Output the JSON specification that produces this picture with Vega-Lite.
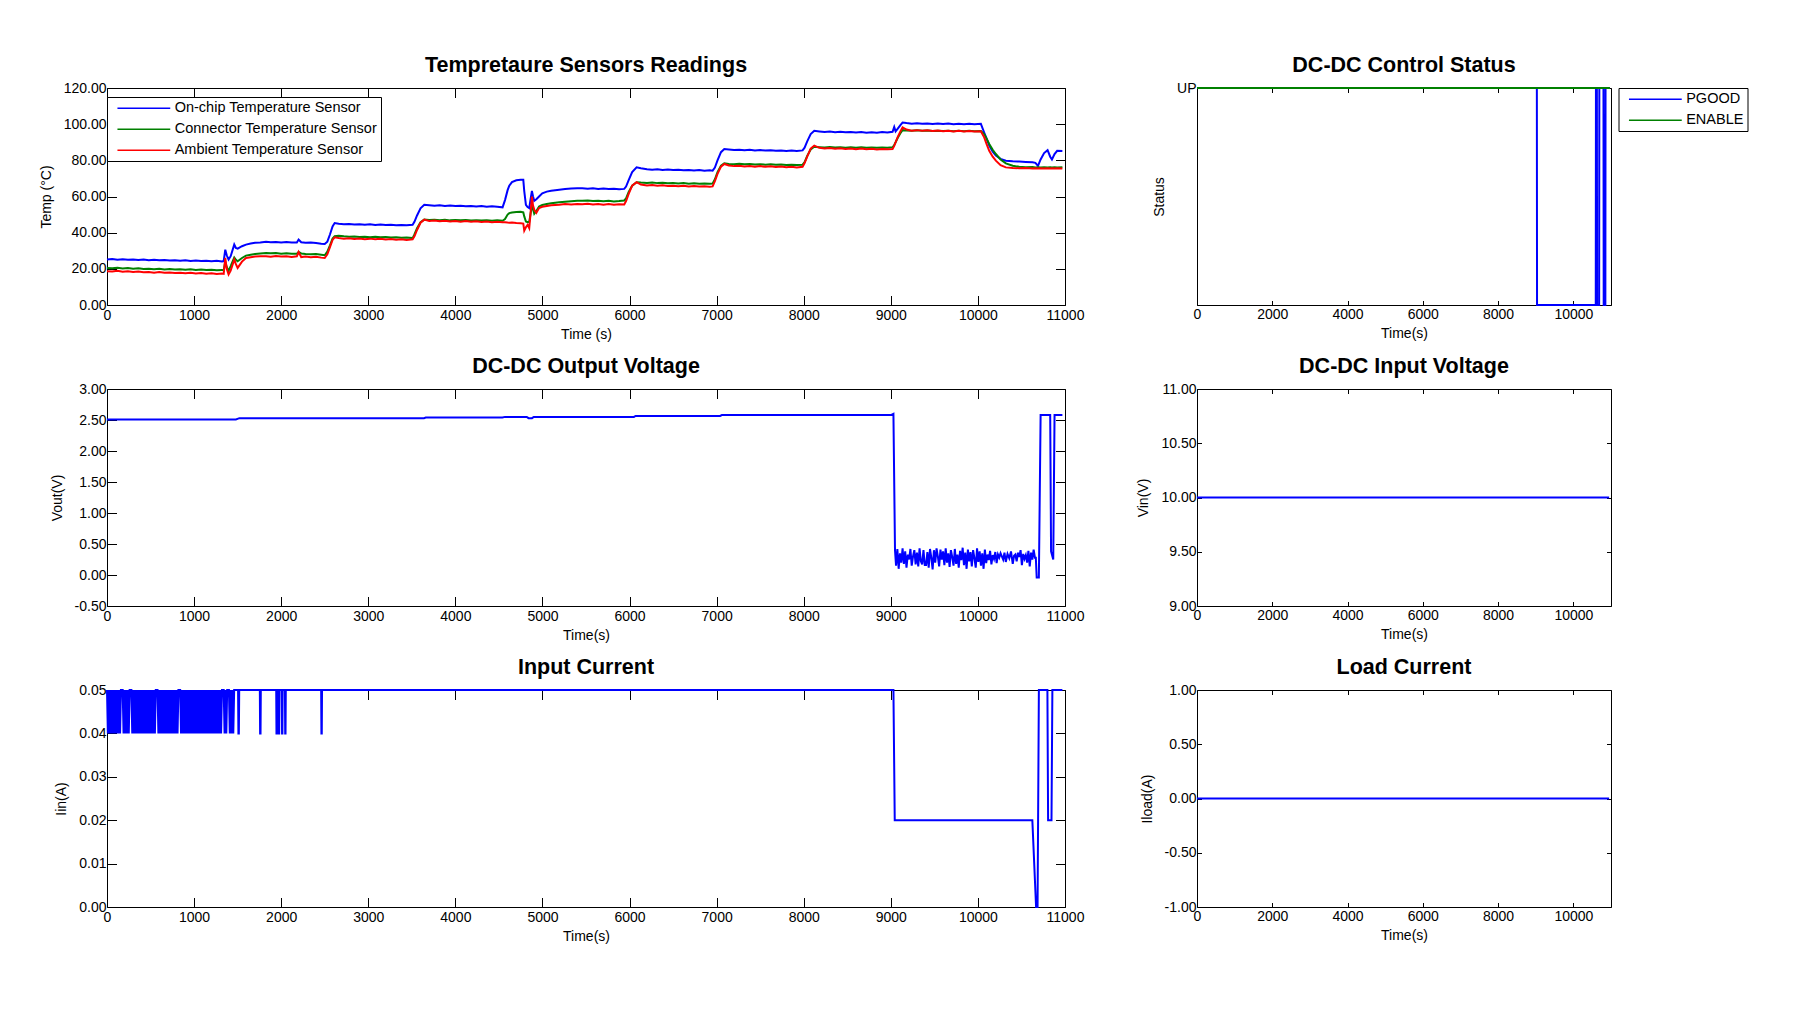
{
 "$schema":"https://vega.github.io/schema/vega-lite/v6.json",
 "background":"white",
 "padding":{"left":38,"top":54,"right":10,"bottom":10},
 "bounds":"flush",
 "columns":2,
 "spacing":{"row":84,"column":132},
 "resolve":{"scale":{"color":"independent"},"legend":{"color":"independent"}},
 "config":{
  "font":"Liberation Sans",
  "view":{"stroke":"#000000","strokeWidth":1},
  "axis":{"domain":false,"grid":false,"tickColor":"#000","tickWidth":1,"labelColor":"#000","labelFontSize":14,"titleColor":"#000","titleFontSize":14,"titleFontWeight":"normal","labelFlush":false,"labelOverlap":false},
  "title":{"fontSize":21.5,"fontWeight":"bold","color":"#000","baseline":"alphabetic","offset":5},
  "legend":{"labelFontSize":14.5,"labelColor":"#000","labelLimit":400,"strokeColor":"#000","fillColor":"#fff","padding":4,"symbolSize":100,"symbolStrokeWidth":1.5,"symbolOffset":25.6,"labelOffset":23.6,"rowPadding":6}
 },
 "datasets":{
  "temp":[
   {"t":0,"a":25.1,"b":20.5,"c":18.7},{"t":60,"a":25.4,"b":20.3,"c":18.5},{"t":120,"a":25.0,"b":20.6,"c":18.9},{"t":180,"a":25.3,"b":20.2,"c":18.4},{"t":240,"a":25.0,"b":20.4,"c":18.6},{"t":300,"a":25.2,"b":20.1,"c":18.2},{"t":360,"a":24.9,"b":20.3,"c":18.5},{"t":420,"a":25.1,"b":19.9,"c":18.1},{"t":480,"a":24.8,"b":20.1,"c":18.3},{"t":540,"a":25.0,"b":19.8,"c":17.9},{"t":600,"a":24.7,"b":20.0,"c":18.2},{"t":660,"a":24.9,"b":19.7,"c":17.8},{"t":720,"a":24.6,"b":19.9,"c":18.0},{"t":780,"a":24.8,"b":19.6,"c":17.7},{"t":840,"a":24.5,"b":19.8,"c":17.9},{"t":900,"a":24.7,"b":19.5,"c":17.6},{"t":960,"a":24.4,"b":19.7,"c":17.8},{"t":1020,"a":24.6,"b":19.4,"c":17.4},{"t":1080,"a":24.3,"b":19.6,"c":17.7},{"t":1140,"a":24.5,"b":19.3,"c":17.3},{"t":1200,"a":24.2,"b":19.5,"c":17.5},{"t":1260,"a":24.4,"b":19.2,"c":17.2},{"t":1320,"a":24.1,"b":19.4,"c":17.4},{"t":1340,"a":24.3,"b":19.1,"c":17.2},
   {"t":1358,"a":30.6,"b":24.0,"c":26.0},{"t":1375,"a":27.5,"b":21.0,"c":20.0},{"t":1396,"a":25.1,"b":18.9,"c":16.9},{"t":1420,"a":27.0,"b":21.5,"c":19.0},{"t":1461,"a":33.4,"b":26.3,"c":25.1},{"t":1480,"a":31.5,"b":25.0,"c":22.6},{"t":1500,"a":31.2,"b":24.2,"c":20.5},{"t":1550,"a":32.5,"b":26.0,"c":24.0},{"t":1596,"a":33.4,"b":27.3,"c":26.0},{"t":1650,"a":34.0,"b":27.8,"c":26.4},{"t":1700,"a":34.4,"b":28.2,"c":26.8},{"t":1760,"a":34.6,"b":28.5,"c":27.0},{"t":1826,"a":35.0,"b":28.8,"c":27.0},{"t":1880,"a":34.7,"b":28.6,"c":26.7},{"t":1940,"a":34.9,"b":28.7,"c":27.1},{"t":2000,"a":34.6,"b":28.4,"c":26.8},{"t":2060,"a":34.8,"b":28.6,"c":27.0},{"t":2120,"a":34.5,"b":28.3,"c":26.6},{"t":2180,"a":34.6,"b":28.4,"c":26.9},{"t":2200,"a":36.2,"b":29.3,"c":29.3},{"t":2230,"a":34.7,"b":28.5,"c":26.5},{"t":2280,"a":34.4,"b":28.2,"c":26.8},{"t":2340,"a":34.6,"b":28.0,"c":26.4},{"t":2400,"a":34.3,"b":28.2,"c":26.7},{"t":2460,"a":33.9,"b":27.8,"c":26.2},{"t":2500,"a":33.7,"b":27.5,"c":26.0},
   {"t":2530,"a":35.0,"b":29.5,"c":28.0},{"t":2560,"a":39.0,"b":33.0,"c":32.0},{"t":2590,"a":43.5,"b":36.8,"c":36.0},{"t":2614,"a":45.3,"b":38.0,"c":37.4},{"t":2660,"a":44.9,"b":38.3,"c":37.0},{"t":2720,"a":44.6,"b":38.0,"c":36.6},{"t":2780,"a":44.8,"b":37.8,"c":36.9},{"t":2840,"a":44.5,"b":37.9,"c":36.5},{"t":2900,"a":44.7,"b":37.6,"c":36.8},{"t":2960,"a":44.4,"b":37.8,"c":36.4},{"t":3020,"a":44.6,"b":37.5,"c":36.7},{"t":3080,"a":44.3,"b":37.7,"c":36.3},{"t":3140,"a":44.5,"b":37.4,"c":36.6},{"t":3200,"a":44.2,"b":37.6,"c":36.2},{"t":3260,"a":44.4,"b":37.3,"c":36.5},{"t":3320,"a":44.1,"b":37.5,"c":36.1},{"t":3380,"a":44.3,"b":37.2,"c":36.4},{"t":3440,"a":44.1,"b":37.3,"c":36.0},{"t":3509,"a":44.4,"b":37.0,"c":36.3},
   {"t":3530,"a":46.0,"b":39.0,"c":38.0},{"t":3560,"a":49.5,"b":42.5,"c":41.5},{"t":3600,"a":53.5,"b":45.8,"c":45.5},{"t":3643,"a":55.4,"b":47.2,"c":47.2},{"t":3700,"a":55.2,"b":47.0,"c":46.5},{"t":3760,"a":54.9,"b":47.2,"c":46.7},{"t":3820,"a":55.1,"b":46.9,"c":46.3},{"t":3880,"a":54.8,"b":47.1,"c":46.6},{"t":3940,"a":55.0,"b":46.8,"c":46.2},{"t":4000,"a":54.7,"b":47.0,"c":46.5},{"t":4060,"a":54.9,"b":46.8,"c":46.1},{"t":4120,"a":54.6,"b":47.0,"c":46.4},{"t":4180,"a":54.8,"b":46.7,"c":46.0},{"t":4240,"a":54.5,"b":46.9,"c":46.3},{"t":4300,"a":54.7,"b":46.7,"c":45.9},{"t":4360,"a":54.4,"b":46.9,"c":46.2},{"t":4420,"a":54.6,"b":46.6,"c":45.8},{"t":4480,"a":54.3,"b":46.8,"c":46.0},{"t":4542,"a":54.0,"b":46.6,"c":45.7},
   {"t":4570,"a":58.0,"b":47.5,"c":45.8},{"t":4600,"a":63.5,"b":50.0,"c":45.6},{"t":4619,"a":66.0,"b":50.8,"c":45.5},{"t":4650,"a":68.0,"b":51.2,"c":45.6},{"t":4700,"a":69.0,"b":51.4,"c":45.3},{"t":4750,"a":69.2,"b":51.5,"c":45.2},{"t":4780,"a":69.2,"b":51.2,"c":45.0},{"t":4791,"a":63.0,"b":49.0,"c":41.1},{"t":4810,"a":55.4,"b":46.2,"c":43.0},{"t":4829,"a":54.2,"b":45.8,"c":44.3},{"t":4848,"a":53.6,"b":46.0,"c":42.5},{"t":4862,"a":58.0,"b":50.0,"c":50.0},{"t":4879,"a":63.1,"b":55.0,"c":60.0},{"t":4892,"a":60.0,"b":53.0,"c":55.0},{"t":4906,"a":57.6,"b":50.5,"c":52.7},{"t":4930,"a":58.5,"b":52.0,"c":51.0},{"t":4961,"a":60.0,"b":54.5,"c":53.6},{"t":4998,"a":61.8,"b":55.3,"c":54.3},{"t":5050,"a":62.7,"b":55.8,"c":54.8},{"t":5100,"a":63.2,"b":56.3,"c":55.2},{"t":5193,"a":63.7,"b":56.8,"c":55.4},{"t":5260,"a":64.1,"b":57.1,"c":55.8},{"t":5330,"a":64.4,"b":57.4,"c":55.6},{"t":5400,"a":64.6,"b":57.6,"c":55.9},{"t":5457,"a":64.6,"b":57.6,"c":55.7},{"t":5520,"a":64.3,"b":57.8,"c":56.0},{"t":5580,"a":64.5,"b":57.5,"c":55.6},{"t":5640,"a":64.2,"b":57.7,"c":55.9},{"t":5700,"a":64.4,"b":57.4,"c":55.5},{"t":5760,"a":64.1,"b":57.6,"c":55.8},{"t":5820,"a":64.3,"b":57.3,"c":55.4},{"t":5880,"a":64.0,"b":57.5,"c":55.7},{"t":5939,"a":64.2,"b":57.8,"c":55.6},
   {"t":5960,"a":65.5,"b":59.0,"c":57.5},{"t":5990,"a":69.0,"b":62.5,"c":61.5},{"t":6030,"a":73.5,"b":66.0,"c":66.0},{"t":6081,"a":76.1,"b":67.9,"c":67.9},{"t":6130,"a":75.6,"b":67.7,"c":66.6},{"t":6200,"a":75.1,"b":67.5,"c":66.1},{"t":6260,"a":74.8,"b":67.8,"c":66.4},{"t":6320,"a":75.0,"b":67.4,"c":65.9},{"t":6380,"a":74.7,"b":67.6,"c":66.2},{"t":6440,"a":74.9,"b":67.3,"c":65.8},{"t":6500,"a":74.6,"b":67.5,"c":66.0},{"t":6560,"a":74.8,"b":67.2,"c":65.7},{"t":6620,"a":74.5,"b":67.4,"c":65.9},{"t":6680,"a":74.7,"b":67.1,"c":65.6},{"t":6740,"a":74.4,"b":67.3,"c":65.8},{"t":6800,"a":74.6,"b":67.0,"c":65.5},{"t":6860,"a":74.3,"b":67.2,"c":65.7},{"t":6920,"a":74.5,"b":67.0,"c":65.4},{"t":6954,"a":74.3,"b":67.2,"c":65.6},
   {"t":6980,"a":76.0,"b":69.5,"c":68.5},{"t":7010,"a":80.0,"b":73.5,"c":72.5},{"t":7050,"a":84.5,"b":77.0,"c":76.5},{"t":7088,"a":86.2,"b":78.3,"c":78.0},{"t":7140,"a":86.0,"b":78.0,"c":77.2},{"t":7200,"a":85.7,"b":77.8,"c":76.8},{"t":7260,"a":85.9,"b":78.1,"c":77.0},{"t":7320,"a":85.6,"b":77.8,"c":76.6},{"t":7380,"a":85.8,"b":78.0,"c":76.9},{"t":7440,"a":85.5,"b":77.7,"c":76.5},{"t":7500,"a":85.7,"b":77.9,"c":76.8},{"t":7560,"a":85.4,"b":77.6,"c":76.4},{"t":7620,"a":85.6,"b":77.8,"c":76.7},{"t":7680,"a":85.3,"b":77.5,"c":76.3},{"t":7740,"a":85.5,"b":77.7,"c":76.6},{"t":7800,"a":85.2,"b":77.4,"c":76.2},{"t":7860,"a":85.4,"b":77.6,"c":76.5},{"t":7920,"a":85.2,"b":77.4,"c":76.1},{"t":7987,"a":85.5,"b":77.6,"c":76.4},
   {"t":8010,"a":87.0,"b":79.0,"c":78.5},{"t":8040,"a":90.5,"b":82.5,"c":82.0},{"t":8080,"a":94.5,"b":86.0,"c":86.5},{"t":8121,"a":96.3,"b":87.5,"c":88.1},{"t":8180,"a":96.0,"b":87.3,"c":86.9},{"t":8240,"a":95.7,"b":87.1,"c":86.5},{"t":8300,"a":95.9,"b":87.4,"c":86.8},{"t":8360,"a":95.6,"b":87.1,"c":86.4},{"t":8420,"a":95.8,"b":87.3,"c":86.7},{"t":8480,"a":95.5,"b":87.0,"c":86.3},{"t":8540,"a":95.7,"b":87.2,"c":86.6},{"t":8600,"a":95.4,"b":87.0,"c":86.2},{"t":8660,"a":95.6,"b":87.2,"c":86.5},{"t":8720,"a":95.3,"b":86.9,"c":86.1},{"t":8780,"a":95.5,"b":87.1,"c":86.4},{"t":8840,"a":95.3,"b":86.9,"c":86.0},{"t":8900,"a":95.6,"b":87.1,"c":86.3},{"t":8960,"a":95.4,"b":86.9,"c":86.1},{"t":9020,"a":95.8,"b":87.2,"c":86.2},
   {"t":9039,"a":98.5,"b":88.5,"c":88.0},{"t":9055,"a":96.0,"b":90.0,"c":90.0},{"t":9080,"a":97.5,"b":92.5,"c":93.0},{"t":9110,"a":99.5,"b":95.0,"c":96.0},{"t":9135,"a":100.9,"b":96.7,"c":98.2},{"t":9180,"a":100.6,"b":96.5,"c":97.0},{"t":9240,"a":100.3,"b":96.3,"c":96.4},{"t":9300,"a":100.5,"b":96.6,"c":96.7},{"t":9360,"a":100.2,"b":96.3,"c":96.3},{"t":9420,"a":100.4,"b":96.5,"c":96.6},{"t":9480,"a":100.1,"b":96.2,"c":96.2},{"t":9540,"a":100.3,"b":96.4,"c":96.5},{"t":9600,"a":100.1,"b":96.2,"c":96.1},{"t":9660,"a":100.3,"b":96.4,"c":96.4},{"t":9720,"a":100.0,"b":96.1,"c":96.0},{"t":9780,"a":100.2,"b":96.3,"c":96.3},{"t":9840,"a":100.0,"b":96.1,"c":95.9},{"t":9900,"a":100.2,"b":96.3,"c":96.2},{"t":9960,"a":100.0,"b":96.1,"c":95.9},{"t":10034,"a":100.2,"b":96.2,"c":96.1},
   {"t":10072,"a":95.4,"b":94.5,"c":92.7},{"t":10100,"a":92.0,"b":92.0,"c":89.0},{"t":10130,"a":88.1,"b":89.0,"c":85.3},{"t":10170,"a":84.8,"b":85.8,"c":82.0},{"t":10206,"a":82.6,"b":83.5,"c":79.8},{"t":10260,"a":80.8,"b":80.5,"c":77.3},{"t":10321,"a":79.8,"b":78.3,"c":76.1},{"t":10400,"a":79.5,"b":77.0,"c":75.8},{"t":10474,"a":79.3,"b":76.4,"c":75.6},{"t":10550,"a":79.1,"b":76.2,"c":75.7},{"t":10627,"a":78.9,"b":76.3,"c":75.5},{"t":10660,"a":78.6,"b":76.1,"c":75.6},{"t":10690,"a":76.9,"b":76.2,"c":75.5},{"t":10720,"a":80.5,"b":76.1,"c":75.6},{"t":10760,"a":84.0,"b":76.2,"c":75.5},{"t":10800,"a":85.6,"b":76.1,"c":75.6},{"t":10830,"a":82.0,"b":76.2,"c":75.5},{"t":10850,"a":80.5,"b":76.1,"c":75.6},{"t":10880,"a":83.5,"b":76.2,"c":75.5},{"t":10910,"a":85.3,"b":76.1,"c":75.6},{"t":10970,"a":85.2,"b":76.2,"c":75.5}
  ],
  "stat":[
   {"t":0,"s":"PGOOD","v":1},{"t":9030,"s":"PGOOD","v":1},{"t":9035,"s":"PGOOD","v":0},{"t":10595,"s":"PGOOD","v":0},{"t":10600,"s":"PGOOD","v":1},{"t":10625,"s":"PGOOD","v":1},{"t":10630,"s":"PGOOD","v":0},{"t":10685,"s":"PGOOD","v":0},{"t":10690,"s":"PGOOD","v":1},{"t":10800,"s":"PGOOD","v":1},{"t":10806,"s":"PGOOD","v":0},{"t":10850,"s":"PGOOD","v":0},{"t":10855,"s":"PGOOD","v":1},{"t":10970,"s":"PGOOD","v":1},
   {"t":0,"s":"ENABLE","v":1},{"t":10970,"s":"ENABLE","v":1}
  ],
  "vout":[
   {"t":0,"v":2.51},{"t":1480,"v":2.51},{"t":1520,"v":2.53},{"t":3640,"v":2.53},{"t":3660,"v":2.54},{"t":4540,"v":2.54},{"t":4570,"v":2.55},{"t":4820,"v":2.55},{"t":4840,"v":2.53},{"t":4880,"v":2.53},{"t":4900,"v":2.55},{"t":6050,"v":2.55},{"t":6070,"v":2.565},{"t":7040,"v":2.565},{"t":7060,"v":2.58},{"t":9000,"v":2.58},{"t":9030,"v":2.6},
   {"t":9048,"v":0.40},{"t":9060,"v":0.15},{"t":9075,"v":0.42},{"t":9090,"v":0.10},{"t":9105,"v":0.35},{"t":9120,"v":0.20},{"t":9135,"v":0.43},{"t":9150,"v":0.18},{"t":9165,"v":0.38},{"t":9180,"v":0.12},{"t":9195,"v":0.33},{"t":9210,"v":0.25},{"t":9225,"v":0.42},{"t":9240,"v":0.15},{"t":9255,"v":0.30},{"t":9270,"v":0.40},{"t":9285,"v":0.17},{"t":9300,"v":0.36},{"t":9315,"v":0.14},{"t":9330,"v":0.43},{"t":9345,"v":0.22},{"t":9360,"v":0.17},{"t":9375,"v":0.40},{"t":9390,"v":0.16},{"t":9405,"v":0.16},{"t":9420,"v":0.37},{"t":9435,"v":0.12},{"t":9450,"v":0.42},{"t":9465,"v":0.28},{"t":9480,"v":0.09},{"t":9495,"v":0.40},{"t":9510,"v":0.20},{"t":9525,"v":0.43},{"t":9540,"v":0.30},{"t":9555,"v":0.14},{"t":9570,"v":0.41},{"t":9585,"v":0.25},{"t":9600,"v":0.38},{"t":9615,"v":0.16},{"t":9630,"v":0.43},{"t":9645,"v":0.20},{"t":9660,"v":0.35},{"t":9675,"v":0.13},{"t":9690,"v":0.40},{"t":9705,"v":0.29},{"t":9720,"v":0.15},{"t":9735,"v":0.42},{"t":9750,"v":0.18},{"t":9765,"v":0.33},{"t":9780,"v":0.12},{"t":9795,"v":0.39},{"t":9810,"v":0.24},{"t":9825,"v":0.44},{"t":9840,"v":0.16},{"t":9855,"v":0.36},{"t":9870,"v":0.10},{"t":9885,"v":0.41},{"t":9900,"v":0.22},{"t":9915,"v":0.37},{"t":9930,"v":0.14},{"t":9945,"v":0.40},{"t":9960,"v":0.27},{"t":9975,"v":0.12},{"t":9990,"v":0.43},{"t":10005,"v":0.21},{"t":10020,"v":0.38},{"t":10035,"v":0.15},{"t":10050,"v":0.35},{"t":10065,"v":0.10},{"t":10080,"v":0.41},{"t":10095,"v":0.19},{"t":10110,"v":0.33},{"t":10125,"v":0.24},{"t":10140,"v":0.39},{"t":10155,"v":0.17},{"t":10170,"v":0.32},{"t":10185,"v":0.26},{"t":10200,"v":0.37},{"t":10215,"v":0.19},{"t":10230,"v":0.33},{"t":10245,"v":0.28},{"t":10260,"v":0.35},{"t":10275,"v":0.30},{"t":10290,"v":0.25},{"t":10305,"v":0.36},{"t":10320,"v":0.21},{"t":10340,"v":0.34},{"t":10360,"v":0.27},{"t":10380,"v":0.38},{"t":10400,"v":0.18},{"t":10415,"v":0.31},{"t":10430,"v":0.33},{"t":10445,"v":0.22},{"t":10460,"v":0.36},{"t":10475,"v":0.29},{"t":10490,"v":0.40},{"t":10505,"v":0.16},{"t":10520,"v":0.34},{"t":10535,"v":0.26},{"t":10550,"v":0.32},{"t":10565,"v":0.20},{"t":10580,"v":0.39},{"t":10595,"v":0.14},{"t":10610,"v":0.36},{"t":10625,"v":0.25},{"t":10640,"v":0.41},{"t":10655,"v":0.28},{"t":10665,"v":0.28},{"t":10675,"v":-0.04},{"t":10700,"v":-0.04},{"t":10720,"v":2.58},{"t":10830,"v":2.58},{"t":10840,"v":0.38},{"t":10865,"v":0.25},{"t":10880,"v":2.58},{"t":10970,"v":2.58}
  ],
  "iin":[
   {"t":0,"v":0.05},{"t":10,"v":0.04},{"t":20,"v":0.05},{"t":30,"v":0.04},{"t":40,"v":0.05},{"t":50,"v":0.04},{"t":60,"v":0.05},{"t":70,"v":0.04},{"t":80,"v":0.05},{"t":90,"v":0.04},{"t":100,"v":0.05},{"t":110,"v":0.04},{"t":120,"v":0.05},{"t":130,"v":0.04},{"t":140,"v":0.05},{"t":150,"v":0.04},{"t":160,"v":0.05},{"t":170,"v":0.05},{"t":180,"v":0.05},{"t":190,"v":0.04},{"t":200,"v":0.05},{"t":210,"v":0.04},{"t":220,"v":0.05},{"t":230,"v":0.04},{"t":240,"v":0.05},{"t":250,"v":0.04},{"t":260,"v":0.05},{"t":270,"v":0.05},{"t":280,"v":0.05},{"t":290,"v":0.04},{"t":300,"v":0.05},{"t":310,"v":0.04},{"t":320,"v":0.05},{"t":330,"v":0.04},{"t":340,"v":0.05},{"t":350,"v":0.04},{"t":360,"v":0.05},{"t":370,"v":0.04},{"t":380,"v":0.05},{"t":390,"v":0.04},{"t":400,"v":0.05},{"t":410,"v":0.04},{"t":420,"v":0.05},{"t":430,"v":0.04},{"t":440,"v":0.05},{"t":450,"v":0.04},{"t":460,"v":0.05},{"t":470,"v":0.04},{"t":480,"v":0.05},{"t":490,"v":0.04},{"t":500,"v":0.05},{"t":510,"v":0.04},{"t":520,"v":0.05},{"t":530,"v":0.04},{"t":540,"v":0.05},{"t":550,"v":0.04},{"t":560,"v":0.05},{"t":570,"v":0.05},{"t":580,"v":0.05},{"t":590,"v":0.04},{"t":600,"v":0.05},{"t":610,"v":0.04},{"t":620,"v":0.05},{"t":630,"v":0.04},{"t":640,"v":0.05},{"t":650,"v":0.04},{"t":660,"v":0.05},{"t":670,"v":0.04},{"t":680,"v":0.05},{"t":690,"v":0.04},{"t":700,"v":0.05},{"t":710,"v":0.04},{"t":720,"v":0.05},{"t":730,"v":0.04},{"t":740,"v":0.05},{"t":750,"v":0.04},{"t":760,"v":0.05},{"t":770,"v":0.04},{"t":780,"v":0.05},{"t":790,"v":0.04},{"t":800,"v":0.05},{"t":810,"v":0.04},{"t":820,"v":0.05},{"t":830,"v":0.05},{"t":840,"v":0.05},{"t":850,"v":0.04},{"t":860,"v":0.05},{"t":870,"v":0.04},{"t":880,"v":0.05},{"t":890,"v":0.04},{"t":900,"v":0.05},{"t":910,"v":0.04},{"t":920,"v":0.05},{"t":930,"v":0.04},{"t":940,"v":0.05},{"t":950,"v":0.04},{"t":960,"v":0.05},{"t":970,"v":0.04},{"t":980,"v":0.05},{"t":990,"v":0.04},{"t":1000,"v":0.05},{"t":1010,"v":0.04},{"t":1020,"v":0.05},{"t":1030,"v":0.04},{"t":1040,"v":0.05},{"t":1050,"v":0.04},{"t":1060,"v":0.05},{"t":1070,"v":0.04},{"t":1080,"v":0.05},{"t":1090,"v":0.04},{"t":1100,"v":0.05},{"t":1110,"v":0.04},{"t":1120,"v":0.05},{"t":1130,"v":0.04},{"t":1140,"v":0.05},{"t":1150,"v":0.04},{"t":1160,"v":0.05},{"t":1170,"v":0.04},{"t":1180,"v":0.05},{"t":1190,"v":0.04},{"t":1200,"v":0.05},{"t":1210,"v":0.04},{"t":1220,"v":0.05},{"t":1230,"v":0.04},{"t":1240,"v":0.05},{"t":1250,"v":0.04},{"t":1260,"v":0.05},{"t":1270,"v":0.04},{"t":1280,"v":0.05},{"t":1290,"v":0.04},{"t":1300,"v":0.05},{"t":1310,"v":0.04},{"t":1320,"v":0.05},{"t":1330,"v":0.05},{"t":1340,"v":0.05},{"t":1350,"v":0.04},{"t":1360,"v":0.05},{"t":1370,"v":0.04},{"t":1380,"v":0.05},{"t":1390,"v":0.05},{"t":1400,"v":0.05},{"t":1410,"v":0.04},{"t":1420,"v":0.05},{"t":1430,"v":0.04},{"t":1440,"v":0.05},{"t":1450,"v":0.04},{"t":1460,"v":0.05},
   {"t":1505,"v":0.05},{"t":1509,"v":0.04},{"t":1514,"v":0.04},{"t":1518,"v":0.05},{"t":1755,"v":0.05},{"t":1758,"v":0.04},{"t":1763,"v":0.04},{"t":1766,"v":0.05},{"t":1943,"v":0.05},{"t":1946,"v":0.04},{"t":1950,"v":0.04},{"t":1953,"v":0.05},{"t":1970,"v":0.05},{"t":1973,"v":0.04},{"t":1977,"v":0.04},{"t":1980,"v":0.05},{"t":2007,"v":0.05},{"t":2010,"v":0.04},{"t":2014,"v":0.04},{"t":2017,"v":0.05},{"t":2043,"v":0.05},{"t":2046,"v":0.04},{"t":2050,"v":0.04},{"t":2053,"v":0.05},{"t":2459,"v":0.05},{"t":2462,"v":0.04},{"t":2466,"v":0.04},{"t":2469,"v":0.05},
   {"t":9030,"v":0.05},{"t":9045,"v":0.02},{"t":10625,"v":0.02},{"t":10668,"v":0},{"t":10685,"v":0},{"t":10700,"v":0.05},{"t":10798,"v":0.05},{"t":10806,"v":0.02},{"t":10845,"v":0.02},{"t":10855,"v":0.05},{"t":10970,"v":0.05}
  ],
  "vin":[{"t":0,"v":10},{"t":10950,"v":10}],
  "iload":[{"t":0,"v":0},{"t":10950,"v":0}]
 },
 "concat":[
   {"width":958,"height":217,"title":"Tempretaure Sensors Readings","data":{"name":"temp"},
    "transform":[{"fold":["a","b","c"],"as":["s","v"]}],
    "layer":[
     {"mark":{"type":"line","strokeWidth":2},
      "encoding":{
       "x":{"field":"t","type":"quantitative","scale":{"domain":[0,11000],"nice":false},"axis":{"title":"Time (s)","values":[0,1000,2000,3000,4000,5000,6000,7000,8000,9000,10000,11000],"format":"d","tickSize":-9.5,"labelPadding":13.3,"titlePadding":5}},
       "y":{"field":"v","type":"quantitative","scale":{"domain":[0,120],"nice":false,"zero":false},"axis":{"title":"Temp (°C)","values":[0,20,40,60,80,100,120],"format":".2f","tickSize":-9.5,"labelPadding":10.5,"titlePadding":10}},
       "color":{"field":"s","type":"nominal","scale":{"domain":["a","b","c"],"range":["#0000ff","#008000","#ff0000"]},
        "legend":{"orient":"none","legendX":0,"legendY":9,"title":null,"symbolType":"M-5.28,0H5.28","labelExpr":"datum.label=='a'?'On-chip Temperature Sensor':datum.label=='b'?'Connector Temperature Sensor':'Ambient Temperature Sensor'"}}
      }},
     {"mark":{"type":"point","opacity":0},
      "encoding":{
       "x":{"field":"t","type":"quantitative","axis":{"orient":"top","labels":false,"title":null,"values":[0,1000,2000,3000,4000,5000,6000,7000,8000,9000,10000,11000],"tickSize":-9.5}},
       "y":{"field":"v","type":"quantitative","axis":{"orient":"right","labels":false,"title":null,"values":[0,20,40,60,80,100,120],"tickSize":-9.5}}
      }}
    ],
    "resolve":{"axis":{"x":"independent","y":"independent"}}
   },
   {"width":414,"height":217,"title":"DC-DC Control Status","data":{"name":"stat"},
    "layer":[
     {"transform":[{"filter":"datum.s=='PGOOD'"}],
      "mark":{"type":"line","strokeWidth":2},
      "encoding":{
       "x":{"field":"t","type":"quantitative","scale":{"domain":[0,11000],"nice":false},"axis":{"title":"Time(s)","values":[0,2000,4000,6000,8000,10000],"format":"d","tickSize":-4.5,"labelPadding":7,"titlePadding":5}},
       "y":{"field":"v","type":"quantitative","scale":{"domain":[0,1],"nice":false},"axis":{"title":"Status","values":[0,1],"labelExpr":"datum.value==1?'UP':''","tickSize":-4.5,"labelPadding":5.5,"titlePadding":10}},
       "color":{"field":"s","type":"nominal","scale":{"domain":["PGOOD","ENABLE"],"range":["#0000ff","#008000"]},
        "legend":{"orient":"none","legendX":421.5,"legendY":0,"title":null,"labelOffset":23.6,"symbolType":"M-5.28,0H5.28"}}
      }},
     {"transform":[{"filter":"datum.s=='ENABLE'"}],
      "mark":{"type":"line","strokeWidth":2},
      "encoding":{
       "x":{"field":"t","type":"quantitative","axis":null},
       "y":{"field":"v","type":"quantitative","axis":null},
       "color":{"field":"s","type":"nominal"}
      }},
     {"mark":{"type":"point","opacity":0},
      "encoding":{
       "x":{"field":"t","type":"quantitative","axis":{"orient":"top","labels":false,"title":null,"values":[0,2000,4000,6000,8000,10000],"tickSize":-4.5}},
       "y":{"field":"v","type":"quantitative","axis":{"orient":"right","labels":false,"title":null,"values":[0,1],"tickSize":-4.5}}
      }}
    ],
    "resolve":{"axis":{"x":"independent","y":"independent"}}
   },
   {"width":958,"height":217,"title":"DC-DC Output Voltage","data":{"name":"vout"},
    "layer":[
     {"mark":{"type":"line","strokeWidth":2,"color":"#0000ff"},
      "encoding":{
       "x":{"field":"t","type":"quantitative","scale":{"domain":[0,11000],"nice":false},"axis":{"title":"Time(s)","values":[0,1000,2000,3000,4000,5000,6000,7000,8000,9000,10000,11000],"format":"d","tickSize":-9.5,"labelPadding":13.3,"titlePadding":5}},
       "y":{"field":"v","type":"quantitative","scale":{"domain":[-0.5,3],"nice":false,"zero":false},"axis":{"title":"Vout(V)","values":[-0.5,0,0.5,1,1.5,2,2.5,3],"format":".2f","labelExpr":"replace(datum.label,'\u2212','-')","tickSize":-9.5,"labelPadding":10.5,"titlePadding":10}}
      }},
     {"mark":{"type":"point","opacity":0},
      "encoding":{
       "x":{"field":"t","type":"quantitative","axis":{"orient":"top","labels":false,"title":null,"values":[0,1000,2000,3000,4000,5000,6000,7000,8000,9000,10000,11000],"tickSize":-9.5}},
       "y":{"field":"v","type":"quantitative","axis":{"orient":"right","labels":false,"title":null,"values":[-0.5,0,0.5,1,1.5,2,2.5,3],"tickSize":-9.5}}
      }}
    ],
    "resolve":{"axis":{"x":"independent","y":"independent"}}
   },
   {"width":414,"height":217,"title":"DC-DC Input Voltage","data":{"name":"vin"},
    "layer":[
     {"mark":{"type":"line","strokeWidth":2,"color":"#0000ff"},
      "encoding":{
       "x":{"field":"t","type":"quantitative","scale":{"domain":[0,11000],"nice":false},"axis":{"title":"Time(s)","values":[0,2000,4000,6000,8000,10000],"format":"d","tickSize":-4.5,"labelPadding":7,"titlePadding":5}},
       "y":{"field":"v","type":"quantitative","scale":{"domain":[9,11],"nice":false,"zero":false},"axis":{"title":"Vin(V)","values":[9,9.5,10,10.5,11],"format":".2f","tickSize":-4.5,"labelPadding":5.5,"titlePadding":10}}
      }},
     {"mark":{"type":"point","opacity":0},
      "encoding":{
       "x":{"field":"t","type":"quantitative","axis":{"orient":"top","labels":false,"title":null,"values":[0,2000,4000,6000,8000,10000],"tickSize":-4.5}},
       "y":{"field":"v","type":"quantitative","axis":{"orient":"right","labels":false,"title":null,"values":[9,9.5,10,10.5,11],"tickSize":-4.5}}
      }}
    ],
    "resolve":{"axis":{"x":"independent","y":"independent"}}
   },
   {"width":958,"height":217,"title":"Input Current","data":{"name":"iin"},
    "layer":[
     {"mark":{"type":"line","strokeWidth":2,"color":"#0000ff"},
      "encoding":{
       "x":{"field":"t","type":"quantitative","scale":{"domain":[0,11000],"nice":false},"axis":{"title":"Time(s)","values":[0,1000,2000,3000,4000,5000,6000,7000,8000,9000,10000,11000],"format":"d","tickSize":-9.5,"labelPadding":13.3,"titlePadding":5}},
       "y":{"field":"v","type":"quantitative","scale":{"domain":[0,0.05],"nice":false},"axis":{"title":"Iin(A)","values":[0,0.01,0.02,0.03,0.04,0.05],"format":".2f","tickSize":-9.5,"labelPadding":10.5,"titlePadding":10}}
      }},
     {"mark":{"type":"point","opacity":0},
      "encoding":{
       "x":{"field":"t","type":"quantitative","axis":{"orient":"top","labels":false,"title":null,"values":[0,1000,2000,3000,4000,5000,6000,7000,8000,9000,10000,11000],"tickSize":-9.5}},
       "y":{"field":"v","type":"quantitative","axis":{"orient":"right","labels":false,"title":null,"values":[0,0.01,0.02,0.03,0.04,0.05],"tickSize":-9.5}}
      }}
    ],
    "resolve":{"axis":{"x":"independent","y":"independent"}}
   },
   {"width":414,"height":217,"title":"Load Current","data":{"name":"iload"},
    "layer":[
     {"mark":{"type":"line","strokeWidth":2,"color":"#0000ff"},
      "encoding":{
       "x":{"field":"t","type":"quantitative","scale":{"domain":[0,11000],"nice":false},"axis":{"title":"Time(s)","values":[0,2000,4000,6000,8000,10000],"format":"d","tickSize":-4.5,"labelPadding":7,"titlePadding":5}},
       "y":{"field":"v","type":"quantitative","scale":{"domain":[-1,1],"nice":false},"axis":{"title":"Iload(A)","values":[-1,-0.5,0,0.5,1],"format":".2f","labelExpr":"replace(datum.label,'\u2212','-')","tickSize":-4.5,"labelPadding":5.5,"titlePadding":10}}
      }},
     {"mark":{"type":"point","opacity":0},
      "encoding":{
       "x":{"field":"t","type":"quantitative","axis":{"orient":"top","labels":false,"title":null,"values":[0,2000,4000,6000,8000,10000],"tickSize":-4.5}},
       "y":{"field":"v","type":"quantitative","axis":{"orient":"right","labels":false,"title":null,"values":[-1,-0.5,0,0.5,1],"tickSize":-4.5}}
      }}
    ],
    "resolve":{"axis":{"x":"independent","y":"independent"}}
   }
 ]
}
